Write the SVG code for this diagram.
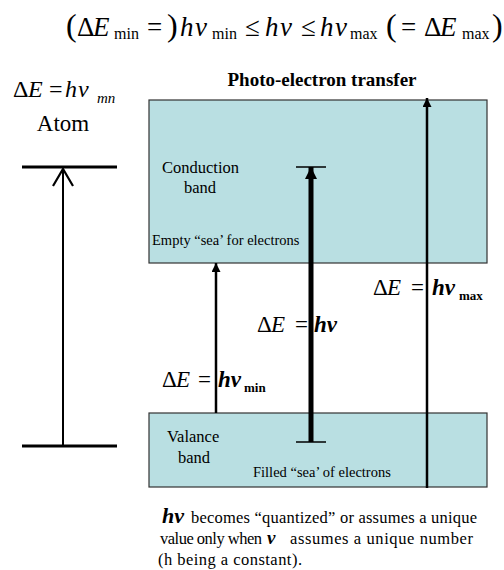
<svg xmlns="http://www.w3.org/2000/svg" width="504" height="570" viewBox="0 0 504 570" font-family="'Liberation Serif', Tinos, 'DejaVu Serif', 'Noto Serif', serif">
<style>
text{font-family:'Liberation Serif',Tinos,'DejaVu Serif','Noto Serif',serif;fill:#000}
.it{font-style:italic}
.bi{font-style:italic;font-weight:bold}
.band{fill:#b9dfe2;stroke:#333;stroke-width:1.2}
.lbl{font-size:16.5px}
.sm{font-size:14.5px}
.eq{font-size:27px}
.sub{font-size:16px}
.lab{font-size:23px}
.lsub{font-size:13px;font-weight:bold}
.note{font-size:16.5px}
</style>
<defs>
<marker id="ah" markerUnits="userSpaceOnUse" markerWidth="10" markerHeight="10" refX="9" refY="4.5" orient="auto" viewBox="0 0 10 10">
<path d="M0,0 L9,4.5 L0,9 z" fill="#000"/>
</marker>
<marker id="ahb" markerUnits="userSpaceOnUse" markerWidth="13" markerHeight="13" refX="12" refY="6" orient="auto" viewBox="0 0 13 13">
<path d="M0,0 L12,6 L0,12 z" fill="#000"/>
</marker>
</defs>

<g id="equation">
<text class="eq" y="36"><tspan x="66" font-size="32">(</tspan><tspan x="77">Δ</tspan><tspan x="93" class="it">E</tspan><tspan x="114" y="39" class="sub">min</tspan><tspan x="147" y="36">=</tspan><tspan x="167" font-size="32">)</tspan><tspan x="180" class="it">h</tspan><tspan x="195" class="it">ν</tspan><tspan x="212" y="39" class="sub">min</tspan><tspan x="245" y="36">≤</tspan><tspan x="265" class="it">h</tspan><tspan x="280" class="it">ν</tspan><tspan x="301">≤</tspan><tspan x="320" class="it">h</tspan><tspan x="335" class="it">ν</tspan><tspan x="350" y="39" class="sub">max</tspan><tspan x="386" y="36" font-size="32">(</tspan><tspan x="401">=</tspan><tspan x="424">Δ</tspan><tspan x="440" class="it">E</tspan><tspan x="462" y="39" class="sub">max</tspan><tspan x="492" y="36" font-size="32">)</tspan></text>
</g>

<g id="atom">
<text font-size="24" y="97"><tspan x="13">Δ</tspan><tspan x="28" class="it">E</tspan><tspan x="49">=</tspan><tspan x="65" class="it">h</tspan><tspan x="78" class="it">ν</tspan><tspan x="97" y="103" class="it" font-size="15">mn</tspan></text>
<text x="63" y="131" text-anchor="middle" font-size="23">Atom</text>
<line x1="22" y1="167" x2="117" y2="167" stroke="#000" stroke-width="3"/>
<line x1="22" y1="446" x2="117" y2="446" stroke="#000" stroke-width="3"/>
</g>

<g id="title">
<text x="322" y="86" text-anchor="middle" font-size="19" font-weight="bold">Photo-electron transfer</text>
</g>

<g id="conduction-band">
<rect class="band" x="149" y="100" width="338" height="163"/>
<text class="lbl" x="162" y="173">Conduction</text>
<text class="lbl" x="184" y="193">band</text>
<text class="sm" x="152" y="245">Empty “sea’ for electrons</text>
</g>

<g id="valence-band">
<rect class="band" x="149" y="413" width="338" height="74"/>
<text class="lbl" x="167" y="442">Valance</text>
<text class="lbl" x="178" y="463">band</text>
<text class="sm" x="253" y="477">Filled “sea’ of electrons</text>
</g>

<g id="labels">
<text class="lab" y="387"><tspan x="162">Δ</tspan><tspan x="176" class="it">E</tspan><tspan x="198">=</tspan><tspan x="218" class="bi">hν</tspan><tspan x="244" y="392" class="lsub">min</tspan></text>
<text class="lab" y="332"><tspan x="257">Δ</tspan><tspan x="271" class="it">E</tspan><tspan x="295">=</tspan><tspan x="314" class="bi">hν</tspan></text>
<text class="lab" y="295"><tspan x="373">Δ</tspan><tspan x="387" class="it">E</tspan><tspan x="411">=</tspan><tspan x="432" class="bi">hν</tspan><tspan x="459" y="300" class="lsub">max</tspan></text>
</g>

<g id="connectors" stroke="#000" fill="none">
<line x1="63" y1="446" x2="63" y2="169" stroke-width="2"/>
<polyline points="53,186 63,169 73,186" stroke-width="2.2"/>
<line x1="216" y1="413" x2="216" y2="263" stroke-width="2.5" marker-end="url(#ah)"/>
<line x1="311" y1="442" x2="311" y2="167" stroke-width="5" marker-end="url(#ahb)"/>
<line x1="296" y1="167" x2="326" y2="167" stroke-width="1.5"/>
<line x1="296" y1="442" x2="326" y2="442" stroke-width="1.5"/>
<line x1="427" y1="488" x2="427" y2="98" stroke-width="2.5" marker-end="url(#ah)"/>
</g>

<g id="note">
<text class="bi" x="162" y="523" font-size="22">hν</text>
<text class="note" x="191" y="523" textLength="286">becomes “quantized” or assumes a unique</text>
<text class="note" x="160" y="544" textLength="102">value only when</text>
<text class="bi" x="267" y="544" font-size="19">ν</text>
<text class="note" x="290" y="544" textLength="183">assumes a unique number</text>
<text class="note" x="158" y="565" textLength="144">(h being a constant).</text>
</g>
</svg>
